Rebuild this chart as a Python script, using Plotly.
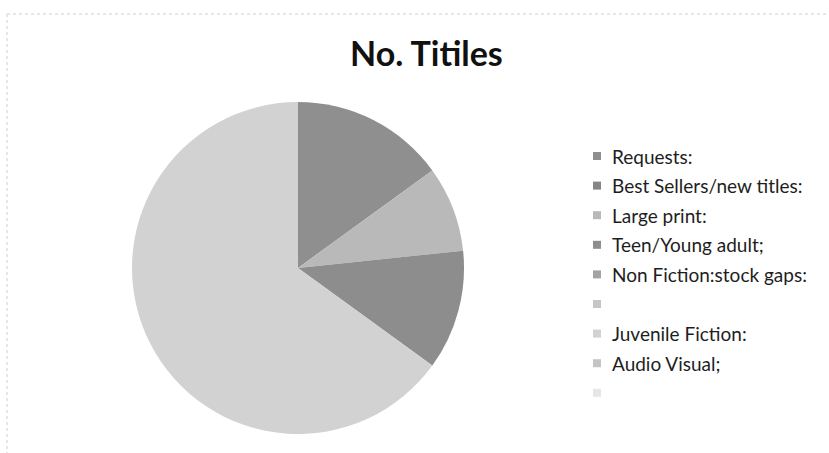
import plotly.graph_objects as go

W, H = 829, 453

# Library title categories and counts
categories = [
    "Requests:",
    "Best Sellers/new titles:",
    "Large print:",
    "Teen/Young adult;",
    "Non Fiction:stock gaps:",
    "",
    "Juvenile Fiction:",
    "Audio Visual;",
    " ",
]
counts = [9, 0, 5, 7, 0, 0, 39, 0, 0]
colors = [
    "#8f8f8f", "#858585", "#b9b9b9", "#8d8d8d", "#a3a3a3",
    "#c6c6c6", "#d2d2d2", "#c4c4c4", "#e6e6e6",
]
title_text = "No. Titiles"

# pixel helpers (paper coordinates)
def px(x):
    return x / W

def py(y):
    return 1 - y / H

cx, cy, r = 298, 268, 166

fig = go.Figure(
    go.Pie(
        labels=[c if c.strip() else f"blank{i}" for i, c in enumerate(categories)],
        values=counts,
        marker=dict(colors=colors, line=dict(width=0)),
        sort=False,
        direction="clockwise",
        rotation=0,
        textinfo="none",
        hoverinfo="label+value",
        showlegend=False,
        domain=dict(x=[px(cx - r), px(cx + r)], y=[py(cy + r), py(cy - r)]),
    )
)

shapes = []
annotations = []

# legend: swatch + label per category
leg_x, leg_y0, leg_dy, sw = 597, 156, 29.6, 8
for i, (name, col) in enumerate(zip(categories, colors)):
    yc = leg_y0 + i * leg_dy
    shapes.append(dict(
        type="rect", xref="paper", yref="paper",
        x0=px(leg_x - sw / 2), x1=px(leg_x + sw / 2),
        y0=py(yc + sw / 2), y1=py(yc - sw / 2),
        fillcolor=col, line=dict(width=0),
    ))
    if name.strip():
        annotations.append(dict(
            text=name, xref="paper", yref="paper",
            x=px(leg_x + 13), y=py(yc), xanchor="left", yanchor="middle",
            showarrow=False, font=dict(family="Lato", size=19, color="#1e1e1e"),
        ))

# chart frame (top and left edges)
frame = dict(color="#cfcfcf", width=1, dash="dot")
shapes.append(dict(type="line", xref="paper", yref="paper",
                   x0=px(7), x1=1, y0=py(14), y1=py(14), line=frame))
shapes.append(dict(type="line", xref="paper", yref="paper",
                   x0=px(7), x1=px(7), y0=py(14), y1=0, line=frame))

annotations.append(dict(
    text=f"<b>{title_text}</b>", xref="paper", yref="paper",
    x=px(426), y=py(52), xanchor="center", yanchor="middle",
    showarrow=False, font=dict(family="Lato", size=34, color="#111111"),
))

fig.update_layout(
    width=W, height=H,
    margin=dict(l=0, r=0, t=0, b=0),
    paper_bgcolor="white", plot_bgcolor="white",
    shapes=shapes, annotations=annotations,
)

fig.write_html("out.html")
